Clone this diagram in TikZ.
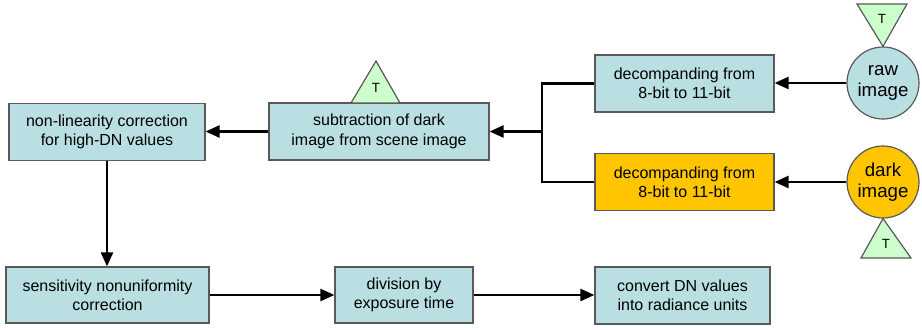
\documentclass[tikz,border=0pt]{standalone}
\usepackage{fontspec}
\setmainfont{Liberation Sans}
\usetikzlibrary{arrows.meta}
\definecolor{procblue}{HTML}{B9DFE3}
\definecolor{darkgold}{HTML}{FFC600}
\definecolor{trigreen}{HTML}{CCFFCC}
\definecolor{edgegray}{HTML}{595959}
\begin{document}
\begin{tikzpicture}[x=0.75pt, y=-0.75pt,
    proc/.style={draw=edgegray, line width=0.9pt, fill=procblue, align=center, inner sep=0pt,
        minimum height=42.75pt, font=\fontsize{12}{14.5}\selectfont},
    img/.style={circle, draw=edgegray, line width=0.9pt, fill=procblue, align=center, inner sep=0pt,
        minimum size=54pt, font=\fontsize{14}{16}\selectfont},
    tri/.style={draw=edgegray, line width=0.9pt, fill=trigreen},
    tlabel/.style={inner sep=0pt, font=\fontsize{10}{10}\selectfont},
    flow/.style={-{Triangle[length=10.5pt,width=9pt]}, line width=1.8pt}]
    \useasboundingbox (0,0) rectangle (922,329);
    % inputs
    \node[img] (raw) at (883,83) {raw\\image};
    \node[img, fill=darkgold] (dark) at (883,182) {dark\\image};
    \draw[tri] (857,4) -- (raw.north) -- (907,4) -- cycle;
    \node[tlabel] (tRaw) at (882,19) {T};
    \draw[tri] (861,258) -- (dark.south) -- (911,258) -- cycle;
    \node[tlabel] (tDark) at (886,244) {T};
    % processing steps
    \node[proc, minimum width=134.25pt] (decRaw) at (684.5,83.5) {decompanding from\\8-bit to 11-bit};
    \node[proc, minimum width=134.25pt, fill=darkgold] (decDark) at (684.5,182) {decompanding from\\8-bit to 11-bit};
    \node[proc, minimum width=165pt] (sub) at (379,131.5) {subtraction of dark\\image from scene image};
    \draw[tri] (351,103) -- (376,61) -- (400,103) -- cycle;
    \node[tlabel] (tSub) at (376,88) {T};
    \node[proc, minimum width=147pt] (nonlin) at (107,132) {non-linearity correction\\for high-DN values};
    \node[proc, minimum width=152.25pt, minimum height=42pt] (sens) at (107.5,295) {sensitivity nonuniformity\\correction};
    \node[proc, minimum width=103.5pt, minimum height=42pt] (div) at (404,295) {division by\\exposure time};
    \node[proc, minimum width=131.25pt] (conv) at (682.5,295.5) {convert DN values\\into radiance units};
    % connectors
    \coordinate (join) at (542,131.5);
    \draw[flow] (raw.west) -- (raw.west -| decRaw.east);
    \draw[flow] (dark.west) -- (dark.west -| decDark.east);
    \draw[line width=1.8pt] (decRaw.west) -| (join) |- (decDark.west);
    \draw[flow] (join) -- (sub.east);
    \draw[flow] (sub.west) -- (sub.west -| nonlin.east);
    \draw[flow] (nonlin.south) -- (nonlin.south |- sens.north);
    \draw[flow] (sens.east) -- (div.west);
    \draw[flow] (div.east) -- (div.east -| conv.west);
\end{tikzpicture}
\end{document}
